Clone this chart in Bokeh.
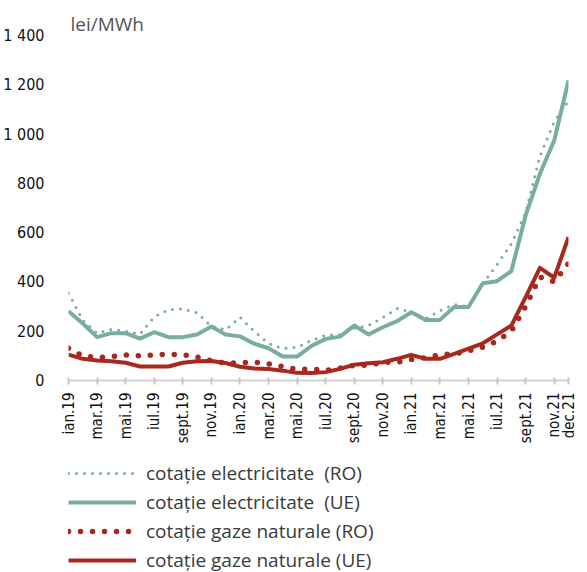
import math
from bokeh.plotting import figure
from bokeh.layouts import column
from bokeh.models import Legend, LegendItem, Label, Range1d
from bokeh.embed import file_html
from bokeh.resources import INLINE

months = ["ian.19", "feb.19", "mar.19", "apr.19", "mai.19", "iun.19", "iul.19", "aug.19",
          "sept.19", "oct.19", "nov.19", "dec.19",
          "ian.20", "feb.20", "mar.20", "apr.20", "mai.20", "iun.20", "iul.20", "aug.20",
          "sept.20", "oct.20", "nov.20", "dec.20",
          "ian.21", "feb.21", "mar.21", "apr.21", "mai.21", "iun.21", "iul.21", "aug.21",
          "sept.21", "oct.21", "nov.21", "dec.21"]

elec_ro = [354, 245, 192, 208, 200, 188, 258, 288, 290, 275, 220, 205,
           257, 200, 150, 130, 135, 162, 183, 187, 212, 223, 255, 292,
           277, 250, 283, 308, 300, 393, 470, 555, 680, 910, 1050, 1135]
elec_ue = [281, 231, 176, 192, 192, 170, 196, 176, 176, 187, 219, 187,
           179, 149, 131, 97, 97, 140, 169, 178, 223, 187, 216, 241,
           277, 246, 246, 298, 298, 395, 403, 444, 670, 839, 974, 1218]
gas_ro = [131, 100, 93, 97, 104, 100, 104, 106, 105, 95, 80, 70,
          72, 74, 68, 56, 45, 47, 41, 50, 62, 62, 74, 74,
          85, 93, 104, 108, 120, 135, 160, 200, 300, 420, 400, 475]
gas_ue = [105, 88, 81, 78, 72, 57, 57, 57, 72, 78, 79, 71,
          56, 49, 47, 40, 31, 30, 34, 47, 64, 70, 74, 88,
          104, 88, 88, 108, 129, 151, 187, 223, 338, 457, 417, 582]

series_labels = ["cotație electricitate  (RO)", "cotație electricitate  (UE)",
                 "cotație gaze naturale (RO)", "cotație gaze naturale (UE)"]
unit_label = "lei/MWh"
y_ticks = [0, 200, 400, 600, 800, 1000, 1200, 1400]
x = list(range(len(months)))
x_ticks = list(range(0, len(months), 2)) + [len(months) - 1]

TEAL = "#78ada3"
RED = "#a8281e"

FH = 370                      # frame height (px)
Y_TOP = 1400 * FH / 345       # frame reaches a bit above the 1 400 tick

styles = [dict(line_color=TEAL, line_width=3, line_dash="0 8", line_cap="round"),
          dict(line_color=TEAL, line_width=4, line_join="round"),
          dict(line_color=RED, line_width=5.5, line_dash="0 12", line_cap="round"),
          dict(line_color=RED, line_width=4, line_join="round")]
series = [elec_ro, elec_ue, gas_ro, gas_ue]

p = figure(output_backend="svg", toolbar_location=None,
           width=587, height=460,
           min_border_left=64, min_border_top=10, min_border_right=19, min_border_bottom=80,
           x_range=Range1d(0, len(months) - 1), y_range=Range1d(0, Y_TOP))
p.outline_line_color = None
p.xgrid.visible = False
p.ygrid.visible = False

for i in [0, 2, 1, 3]:
    p.line(x, series[i], **styles[i])

FONT = "DejaVu Sans Condensed, Roboto"

yax = p.yaxis[0]
yax.ticker = y_ticks
yax.major_label_overrides = {t: (f"{t // 1000} {t % 1000:03d}" if t >= 1000 else str(t)) for t in y_ticks}
yax.axis_line_color = None
yax.major_tick_line_color = None
yax.minor_tick_line_color = None
yax.major_label_standoff = 18
yax.major_label_text_font = FONT
yax.major_label_text_font_size = "16px"
yax.major_label_text_color = "#111111"

xax = p.xaxis[0]
xax.ticker = x_ticks
xax.major_label_overrides = {i: months[i] for i in x_ticks}
xax.major_label_orientation = math.pi / 2
xax.axis_line_color = "#d4d4d4"
xax.axis_line_width = 2
xax.major_tick_line_color = "#c8c8c8"
xax.major_tick_line_width = 2
xax.major_tick_in = 3
xax.major_tick_out = 4
xax.minor_tick_line_color = None
xax.major_label_standoff = 8
xax.major_label_text_font = FONT
xax.major_label_text_font_size = "15px"
xax.major_label_text_color = "#111111"

p.add_layout(Label(x=2, y=FH - 13, x_units="screen", y_units="screen", text=unit_label,
                   text_baseline="middle", text_font="Open Sans", text_font_size="19px",
                   text_color="#555555"))

# legend panel below the chart (its lines carry the same series but fall outside its view)
q = figure(output_backend="svg", toolbar_location=None, width=587, height=112,
           min_border_left=65, min_border_top=0, min_border_right=0, min_border_bottom=0,
           x_axis_type=None, y_axis_type=None,
           x_range=Range1d(-2, -1), y_range=Range1d(-2, -1))
q.outline_line_color = None
q.xgrid.visible = False
q.ygrid.visible = False
legend_renderers = [q.line(x, series[i], **styles[i]) for i in range(4)]

legend = Legend(items=[LegendItem(label=series_labels[i], renderers=[legend_renderers[i]])
                       for i in range(4)],
                location="top_left", padding=3, margin=0, spacing=3,
                glyph_width=68, glyph_height=24, label_height=24, label_standoff=10,
                label_text_font="Open Sans", label_text_font_size="19px",
                label_text_color="#3a3a3a", background_fill_alpha=0,
                border_line_color=None)
q.add_layout(legend, "center")

layout = column(p, q, spacing=0)
open("out.html", "w").write(file_html(layout, INLINE))
